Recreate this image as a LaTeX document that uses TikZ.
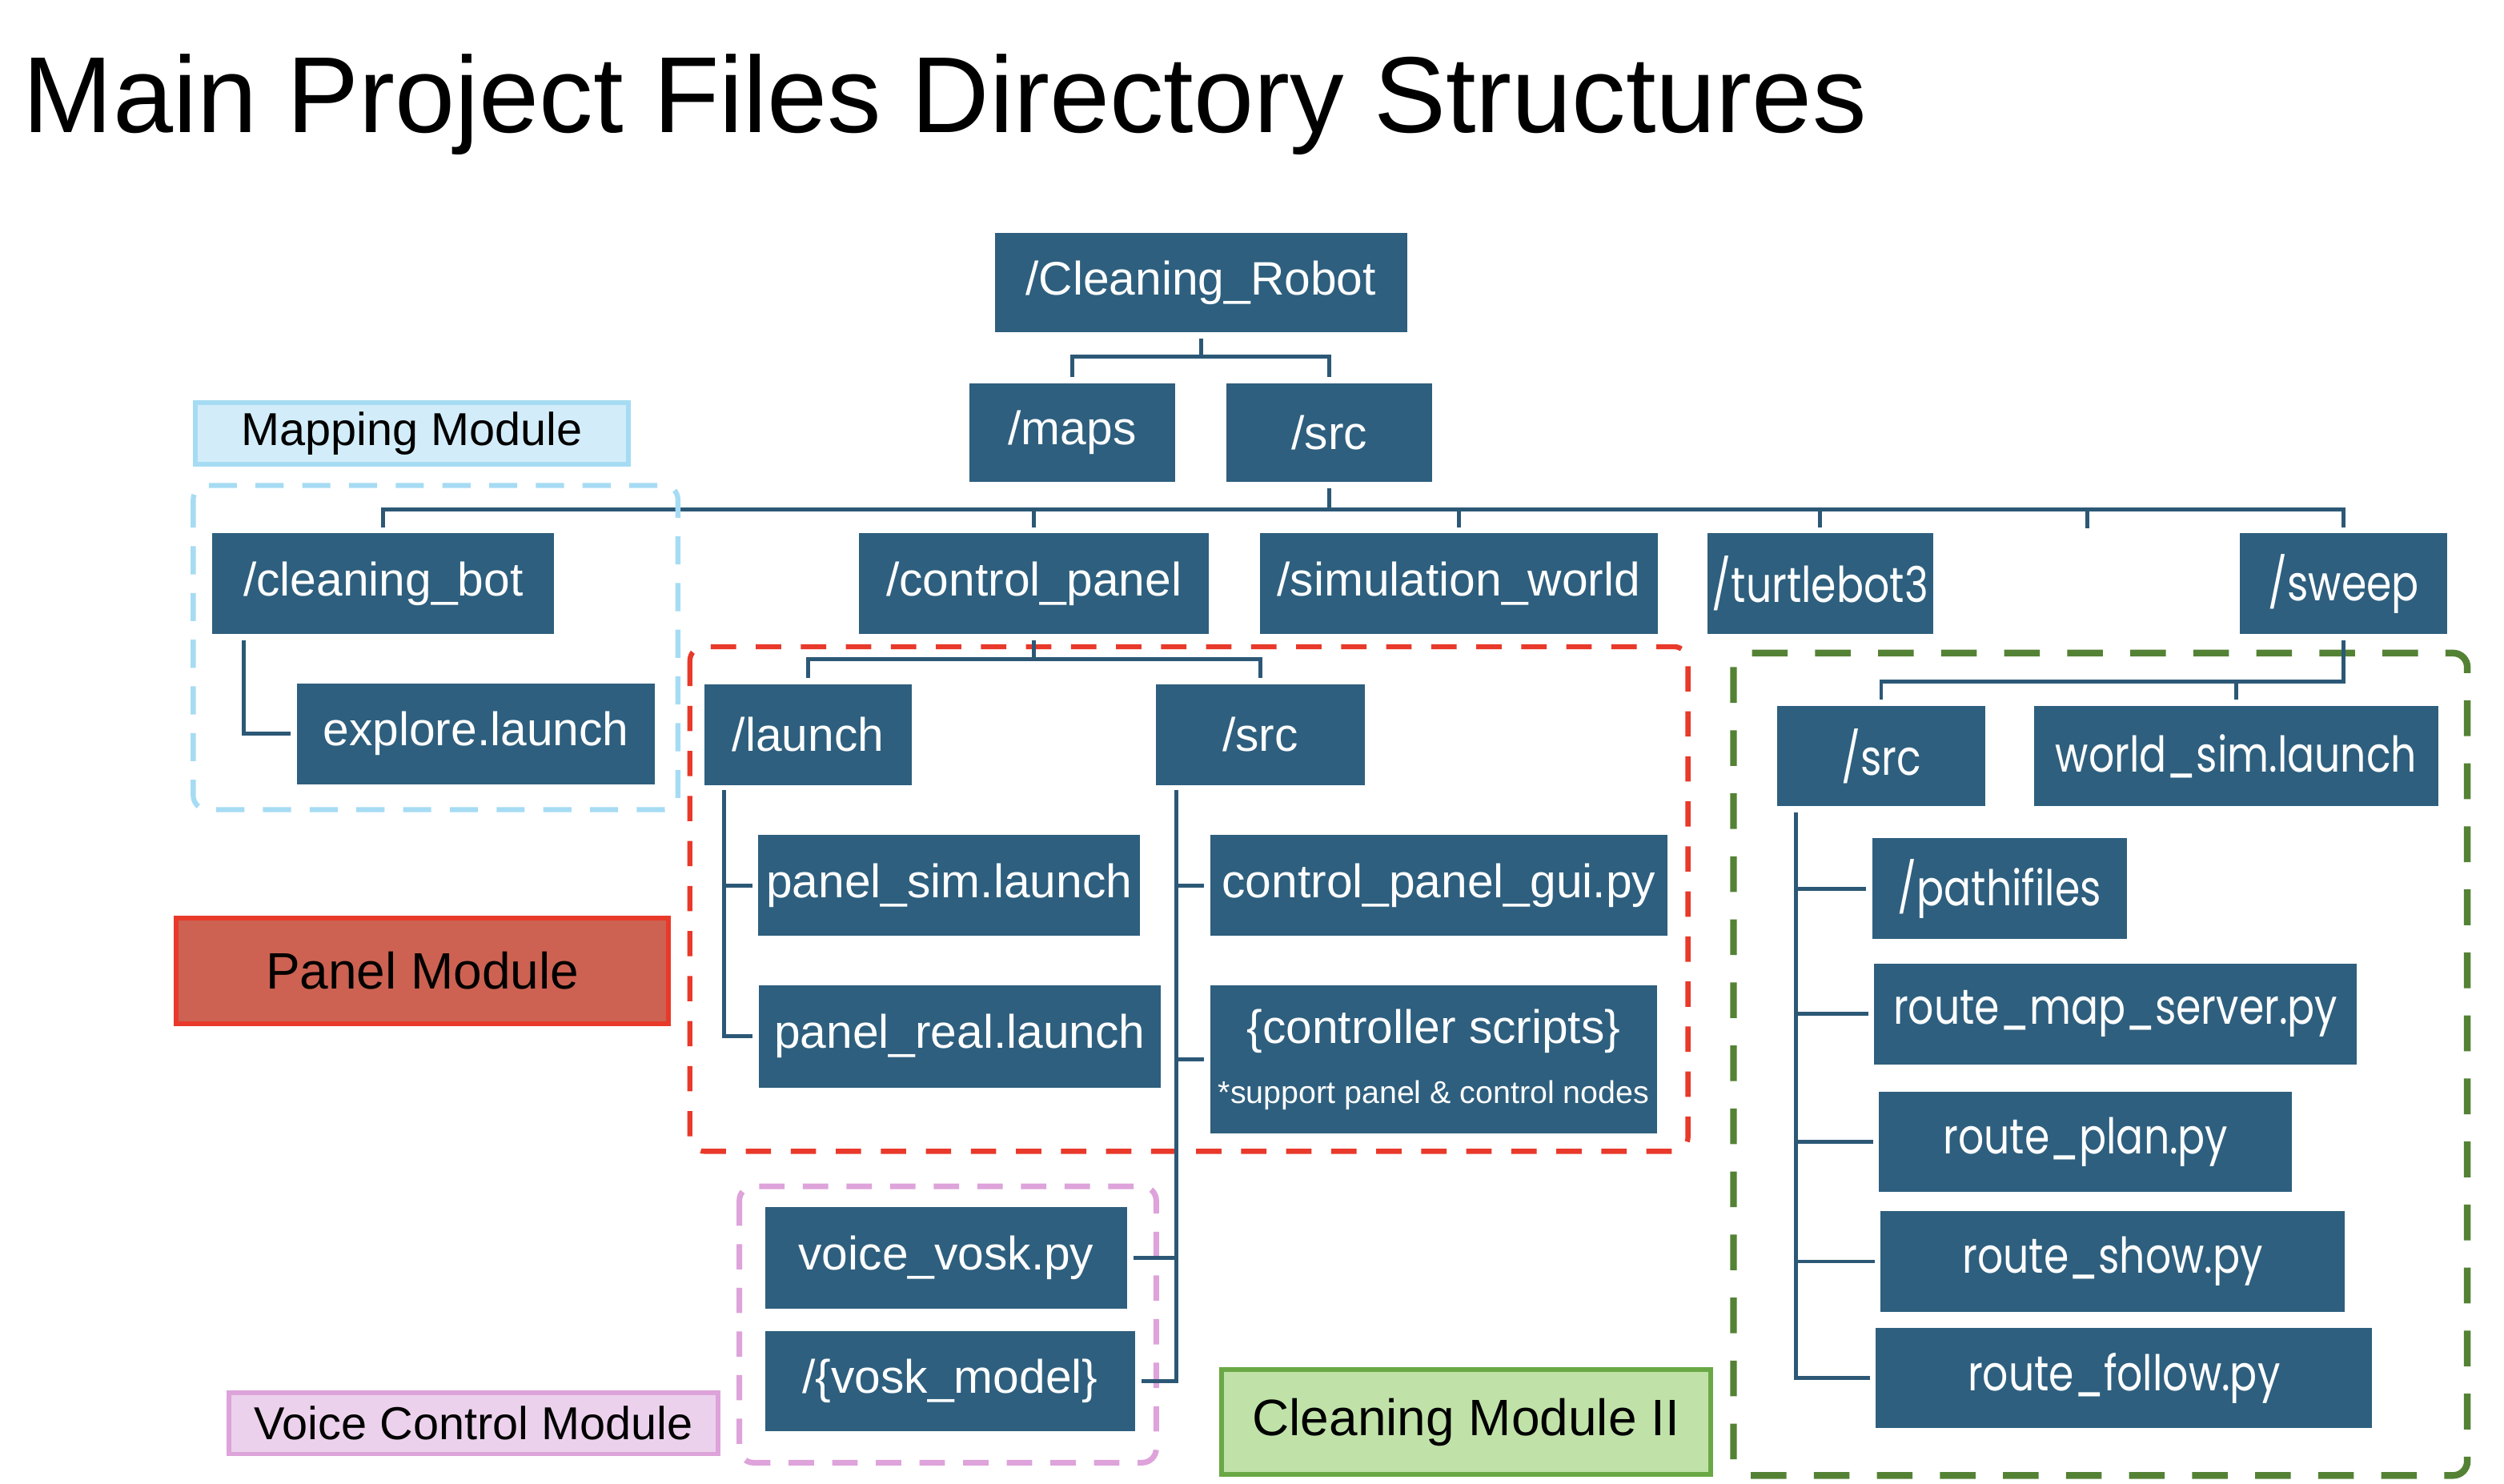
\documentclass[tikz,border=0pt]{standalone}
\usepackage{fontspec}
\setmainfont{Liberation Sans}
\newfontfamily\gothic[FakeStretch=0.82]{Poppins}
\usepackage{xcolor}
\usepackage{tikz}

\definecolor{dirblue}{RGB}{46,95,126}
\definecolor{treeblue}{RGB}{44,88,118}
\definecolor{mapline}{RGB}{166,220,243}
\definecolor{mapfill}{RGB}{210,237,249}
\definecolor{panelline}{RGB}{232,57,42}
\definecolor{panelfill}{RGB}{205,98,82}
\definecolor{voiceline}{RGB}{221,163,218}
\definecolor{voicefill}{RGB}{236,209,236}
\definecolor{cleanline}{RGB}{84,130,53}
\definecolor{cleantagline}{RGB}{106,168,69}
\definecolor{cleanfill}{RGB}{192,226,168}

\begin{document}
\begin{tikzpicture}[
    x=0.01995cm, y=-0.01995cm,
    folder/.style={fill=dirblue, text=white, inner sep=0pt,
        font=\fontsize{16.7}{20}\selectfont},
    gothic/.style={font=\gothic\fontsize{17.5}{21}\selectfont},
    wh/.style 2 args={minimum width=#1*\pxu, minimum height=#2*\pxu},
    tree/.style={draw=treeblue, line width=1.4pt},
    tag/.style={draw=#1, line width=1.7pt, inner sep=0pt, text=black},
    zone/.style={draw=#1, line width=1.8pt, rounded corners=5pt},
]

    \def\pxu{0.5676pt}   % one pixel of the 1568 wide sketch
    \useasboundingbox (0,0) rectangle (1568,929);

    \node[anchor=base west, inner sep=0pt, font=\fontsize{38.4}{46}\selectfont]
        (title) at (14,83) {Main Project Files Directory Structures};

    % =============================================================
    % Top of the tree
    % =============================================================
    \node[folder, wh={258}{62}] (root) at (752,177) {/Cleaning\_Robot};
    \node[folder, wh={129}{62}] (maps) at (671.5,271) {/maps};
    \node[folder, wh={129}{62}] (srcTop) at (832.5,271) {/src};

    \node[folder, wh={214}{63}] (cbot) at (240,365.5) {/cleaning\_bot};
    \node[folder, wh={219}{63}] (cpanel) at (647.5,365.5) {/control\_panel};
    \node[folder, wh={249}{63}] (simworld) at (913.5,365.5) {/simulation\_world};
    \node[folder, gothic, wh={141.5}{63}] (turtle) at (1139.75,365.5) {/turtlebot3};
    \node[folder, gothic, wh={130}{63}] (sweep) at (1467.5,365.5) {/sweep};

    \coordinate (lv1) at (0,223.5);
    \coordinate (lv2) at (0,319);
    \coordinate (stub) at (1307,331);

    \draw[tree, shorten <=2pt] (root.south) -- (root.south |- lv1);
    \draw[tree, shorten <=2pt, shorten >=2pt]
        (maps.north) |- (lv1 -| srcTop) -- (srcTop.north);

    \draw[tree, shorten <=2pt] (srcTop.south) -- (srcTop.south |- lv2);
    \draw[tree, shorten <=2pt, shorten >=2pt]
        (cbot.north) |- (lv2 -| sweep) -- (sweep.north);
    \foreach \n in {cpanel, simworld, turtle}
        \draw[tree, shorten >=2pt] (lv2 -| \n) -- (\n.north);
    \draw[tree] (stub |- lv2) -- (stub);

    % =============================================================
    % Mapping module
    % =============================================================
    \node[tag=mapline, fill=mapfill, wh={271}{38.5},
        font=\fontsize{16.4}{20}\selectfont] (maptag) at (258,271.3) {Mapping Module};
    \draw[zone=mapline, dash pattern=on 10pt off 6.6pt] (121,304) rectangle (424.5,507);

    \node[folder, wh={224}{63}] (explore) at (298,459.5) {explore.launch};
    \draw[tree, shorten <=2pt, shorten >=2pt]
        ([xshift=20*\pxu]cbot.south west) |- (explore.west);

    % =============================================================
    % Panel module
    % =============================================================
    \node[tag=panelline, fill=panelfill, wh={308}{66.5},
        font=\fontsize{18.2}{22}\selectfont] (paneltag) at (264.5,608) {Panel Module};
    \draw[zone=panelline, dash pattern=on 9pt off 7pt] (432,405) rectangle (1057,721);

    \node[folder, wh={130}{63}] (launch) at (506,460) {/launch};
    \node[folder, wh={130.6}{63}] (psrc) at (789.3,460) {/src};
    \node[folder, wh={239}{63}] (psim) at (594.4,554.5) {panel\_sim.launch};
    \node[folder, wh={252}{64}] (preal) at (601,649) {panel\_real.launch};
    \node[folder, wh={286}{63}] (gui) at (901,554.5) {control\_panel\_gui.py};
    \node[folder, wh={279.6}{93}, align=center] (ctrl) at (897.8,663.5)
        {\{controller scripts\}\\[1.5pt]{\fontsize{11.2}{13}\selectfont
         *support panel \& control nodes}};

    \coordinate (lv3) at (0,413);
    \coordinate (lspine) at (453.6,495);
    \coordinate (sspine) at (736.5,495);

    \draw[tree, shorten <=2pt] (cpanel.south) -- (cpanel.south |- lv3);
    \draw[tree, shorten <=2pt, shorten >=2pt]
        (launch.north) |- (lv3 -| psrc) -- (psrc.north);

    \draw[tree, shorten >=2pt] (lspine) |- (preal.west);
    \draw[tree, shorten >=2pt] (lspine |- psim.west) -- (psim.west);

    % =============================================================
    % Voice control module
    % =============================================================
    \node[tag=voiceline, fill=voicefill, wh={306}{38.5},
        font=\fontsize{16.4}{20}\selectfont] (voicetag) at (296.5,891.3) {Voice Control Module};
    \draw[zone=voiceline, line width=2pt, dash pattern=on 9pt off 6.5pt]
        (463,743) rectangle (724,916);

    \node[folder, wh={227}{63.5}] (vosk) at (592.5,787.75) {voice\_vosk.py};
    \node[folder, wh={232}{63}] (model) at (595,865) {/\{vosk\_model\}};

    \draw[tree, shorten >=2pt] (sspine) |- (model.east);
    \draw[tree, shorten >=2pt] (sspine |- vosk.east) -- (vosk.east);
    \foreach \n in {gui, ctrl}
        \draw[tree, shorten >=2pt] (sspine |- \n.west) -- (\n.west);

    % =============================================================
    % Cleaning module II
    % =============================================================
    \node[tag=cleantagline, fill=cleanfill, wh={306.5}{66},
        font=\fontsize{18.2}{22}\selectfont] (cleantag) at (918,890.5) {Cleaning Module II};
    \draw[zone=cleanline, line width=2.4pt, dash pattern=on 12.7pt off 9.7pt]
        (1085.5,409) rectangle (1545,924);

    \node[folder, gothic, wh={130}{63}] (ssrc) at (1178,473.5) {/src};
    \node[folder, gothic, wh={253.4}{63}] (worldsim) at (1400.3,473.5) {world\_sim.launch};
    \node[folder, gothic, wh={159.5}{63}] (pathi) at (1252,556.5) {/pathifiles};
    \node[folder, gothic, wh={302}{63}] (rmap) at (1324.7,635) {route\_map\_server.py};
    \node[folder, gothic, wh={258.5}{63}] (rplan) at (1306,715) {route\_plan.py};
    \node[folder, gothic, wh={290.6}{63}] (rshow) at (1323,790) {route\_show.py};
    \node[folder, gothic, wh={310.6}{63}] (rfollow) at (1330,863) {route\_follow.py};

    \coordinate (lv4) at (0,427);
    \coordinate (cspine) at (1124.8,509);

    \draw[tree, shorten <=2pt, shorten >=2pt]
        (sweep.south) |- (lv4 -| ssrc) -- (ssrc.north);
    \draw[tree, shorten >=2pt] (lv4 -| worldsim) -- (worldsim.north);

    \draw[tree, shorten >=2pt] (cspine) |- (rfollow.west);
    \foreach \n in {pathi, rmap, rplan, rshow}
        \draw[tree, shorten >=2pt] (cspine |- \n.west) -- (\n.west);

\end{tikzpicture}
\end{document}
